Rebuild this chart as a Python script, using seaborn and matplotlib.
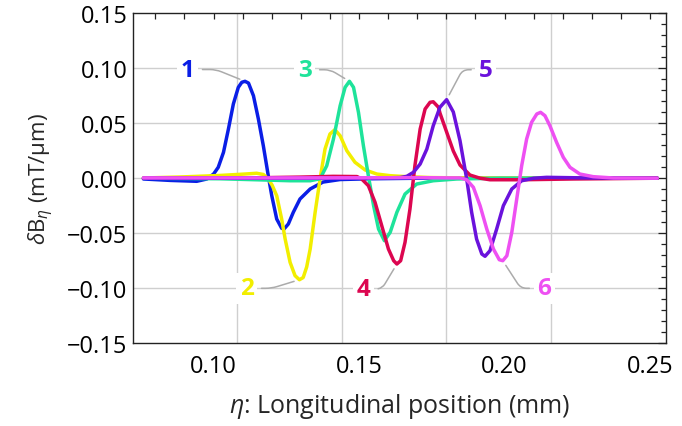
import numpy as np
import pandas as pd
import matplotlib
matplotlib.use("Agg")
import matplotlib.pyplot as plt
from matplotlib.ticker import MultipleLocator, FuncFormatter
import seaborn as sns

# Field-gradient profiles along the longitudinal coordinate (mm -> mT/um)
x1 = [0.0759, 0.0851, 0.0942, 0.0977, 0.1000, 0.1016, 0.1034, 0.1051, 0.1068, 0.1085,
      0.1097, 0.1108, 0.1120, 0.1137, 0.1154, 0.1171, 0.1188, 0.1200, 0.1217, 0.1234,
      0.1242, 0.1257, 0.1274, 0.1297, 0.1332, 0.1376, 0.1435, 0.1538, 0.1710, 0.2525]
y1 = [-0.0007, -0.0020, -0.0028, -0.0007, 0.0038, 0.0099, 0.0235, 0.0447, 0.0675, 0.0826,
      0.0872, 0.0881, 0.0865, 0.0750, 0.0538, 0.0295, 0.0023, -0.0159, -0.0371, -0.0455,
      -0.0462, -0.0416, -0.0310, -0.0189, -0.0098, -0.0035, -0.0012, -0.0005, 0.0000, 0.0000]

x2 = [0.0759, 0.0885, 0.1022, 0.1108, 0.1148, 0.1171, 0.1188, 0.1201, 0.1217, 0.1234,
      0.1246, 0.1263, 0.1280, 0.1295, 0.1308, 0.1320, 0.1332, 0.1349, 0.1366, 0.1383,
      0.1400, 0.1417, 0.1435, 0.1458, 0.1486, 0.1521, 0.1561, 0.1607, 0.1664, 0.1744,
      0.1881, 0.2525]
y2 = [0.0002, 0.0011, 0.0025, 0.0038, 0.0045, 0.0034, -0.0007, -0.0062, -0.0159, -0.0371,
      -0.0553, -0.0765, -0.0886, -0.0923, -0.0903, -0.0807, -0.0644, -0.0310, -0.0007, 0.0265,
      0.0402, 0.0441, 0.0386, 0.0250, 0.0145, 0.0075, 0.0038, 0.0023, 0.0014, 0.0006,
      0.0002, 0.0000]

x3 = [0.0759, 0.1022, 0.1160, 0.1263, 0.1332, 0.1366, 0.1389, 0.1412, 0.1435, 0.1452,
      0.1467, 0.1481, 0.1498, 0.1515, 0.1532, 0.1550, 0.1567, 0.1587, 0.1607, 0.1630,
      0.1658, 0.1698, 0.1755, 0.1836, 0.1984, 0.2525]
y3 = [0.0000, -0.0005, -0.0015, -0.0023, -0.0023, -0.0005, 0.0114, 0.0356, 0.0659, 0.0826,
      0.0881, 0.0826, 0.0599, 0.0295, 0.0023, -0.0250, -0.0462, -0.0568, -0.0492, -0.0310,
      -0.0144, -0.0053, -0.0023, -0.0007, 0.0000, 0.0000]

x4 = [0.0759, 0.1125, 0.1297, 0.1411, 0.1493, 0.1509, 0.1532, 0.1555, 0.1578, 0.1601,
      0.1619, 0.1630, 0.1643, 0.1658, 0.1675, 0.1692, 0.1710, 0.1727, 0.1744, 0.1755,
      0.1773, 0.1778, 0.1801, 0.1824, 0.1847, 0.1881, 0.1916, 0.1950, 0.2063, 0.2235,
      0.2525]
y4 = [0.0000, 0.0003, 0.0010, 0.0017, 0.0015, -0.0007, -0.0068, -0.0219, -0.0432, -0.0644,
      -0.0750, -0.0780, -0.0750, -0.0583, -0.0280, 0.0114, 0.0447, 0.0629, 0.0690, 0.0695,
      0.0645, 0.0593, 0.0420, 0.0247, 0.0120, 0.0029, 0.0000, -0.0014, -0.0014, -0.0007,
      0.0000]

x5 = [0.0759, 0.1297, 0.1572, 0.1641, 0.1664, 0.1687, 0.1710, 0.1733, 0.1755, 0.1778,
      0.1801, 0.1824, 0.1847, 0.1870, 0.1887, 0.1904, 0.1922, 0.1933, 0.1950, 0.1973,
      0.1996, 0.2025, 0.2059, 0.2100, 0.2145, 0.2294, 0.2525]
y5 = [0.0000, 0.0000, 0.0002, 0.0006, 0.0017, 0.0054, 0.0129, 0.0265, 0.0477, 0.0645,
      0.0714, 0.0602, 0.0341, -0.0007, -0.0310, -0.0553, -0.0689, -0.0710, -0.0659, -0.0462,
      -0.0250, -0.0098, -0.0023, 0.0000, 0.0008, 0.0002, 0.0000]

x6 = [0.0759, 0.1297, 0.1710, 0.1813, 0.1847, 0.1870, 0.1893, 0.1916, 0.1939, 0.1962,
      0.1982, 0.1994, 0.2008, 0.2025, 0.2042, 0.2059, 0.2076, 0.2093, 0.2111, 0.2124,
      0.2139, 0.2156, 0.2179, 0.2202, 0.2225, 0.2259, 0.2305, 0.2374, 0.2525]
y6 = [0.0003, 0.0003, 0.0005, 0.0003, 0.0003, -0.0014, -0.0083, -0.0250, -0.0462, -0.0644,
      -0.0741, -0.0750, -0.0705, -0.0492, -0.0189, 0.0114, 0.0356, 0.0508, 0.0584, 0.0599,
      0.0568, 0.0477, 0.0326, 0.0190, 0.0099, 0.0038, 0.0014, 0.0002, 0.0000]

curve_names = ["1", "2", "3", "4", "5", "6"]
curve_colors = ["#0a1ee6", "#f2ee00", "#1ee39a", "#dc0650", "#6a12dc", "#ee50f2"]

# callout label positions (data coords) and leader geometry
label_x = [0.0911, 0.1114, 0.1314, 0.1515, 0.1936, 0.2136]
label_y = [0.0988, -0.1001, 0.0986, -0.1007, 0.0986, -0.1001]
label_at_peak = [True, False, True, False, True, False]
leader_angleA = [0, 0, 0, 0, 180, 180]
leader_angleB = [158, -163, 149, -121, 62, -57]

grid_x = [0.108, 0.144, 0.180, 0.216]
grid_y = [-0.10, -0.05, 0.0, 0.05, 0.10]

xs = [x1, x2, x3, x4, x5, x6]
ys = [y1, y2, y3, y4, y5, y6]
frames = [pd.DataFrame({"eta": xv, "dB": yv, "curve": n}) for xv, yv, n in zip(xs, ys, curve_names)]
df = pd.concat(frames, ignore_index=True)

sns.set_theme(style="white")
plt.rcParams["font.family"] = ["Open Sans", "DejaVu Sans"]
plt.rcParams["mathtext.fontset"] = "custom"
plt.rcParams["mathtext.rm"] = "Open Sans"
plt.rcParams["mathtext.it"] = "Open Sans:italic"
plt.rcParams["axes.unicode_minus"] = True

fig = plt.figure(figsize=(6.82, 4.27), dpi=100)
ax = fig.add_axes([0.1950, 0.1939, 0.7811, 0.7728])

for gx in grid_x:
    ax.axvline(gx, color="#cfcfcf", lw=1.0, zorder=0)
for gy in grid_y:
    ax.axhline(gy, color="#cfcfcf", lw=1.0, zorder=0)

sns.lineplot(data=df, x="eta", y="dB", hue="curve", palette=dict(zip(curve_names, curve_colors)),
             estimator=None, sort=True, legend=False, linewidth=2.5, ax=ax, zorder=3,
             solid_joinstyle="round", solid_capstyle="round")

for i, name in enumerate(curve_names):
    xv = np.array(xs[i])
    yv = np.array(ys[i])
    k = int(np.argmax(yv)) if label_at_peak[i] else int(np.argmin(yv))
    ax.annotate(name, xy=(xv[k], yv[k]), xytext=(label_x[i], label_y[i]),
                ha="center", va="center", fontsize=17.5, fontweight="bold",
                color=curve_colors[i], zorder=5,
                bbox=dict(boxstyle="square,pad=0.15", fc="white", ec="none"),
                arrowprops=dict(arrowstyle="-", color="#ababab", lw=1.1,
                                shrinkA=3, shrinkB=4,
                                connectionstyle=f"angle,angleA={leader_angleA[i]},angleB={leader_angleB[i]},rad=6"))

ax.set_xlim(0.0723, 0.2554)
ax.set_ylim(-0.15, 0.15)
ax.xaxis.set_major_locator(MultipleLocator(0.05))
ax.xaxis.set_minor_locator(MultipleLocator(0.01))
ax.yaxis.set_major_locator(MultipleLocator(0.05))
ax.yaxis.set_minor_locator(MultipleLocator(0.01))
ax.xaxis.set_major_formatter(FuncFormatter(lambda v, p: f"{v:.2f}".replace("-", "\u2212")))
ax.yaxis.set_major_formatter(FuncFormatter(lambda v, p: f"{v:.2f}".replace("-", "\u2212") if abs(v) > 1e-9 else "0.00"))

ax.tick_params(which="both", direction="in", top=True, right=True, colors="#222222",
               labelcolor="black", width=0.9)
ax.tick_params(axis="x", which="major", length=4.5, pad=8, labelsize=17)
ax.tick_params(axis="x", which="minor", length=4)
ax.tick_params(axis="y", which="major", length=5.5, pad=4, labelsize=17)
ax.tick_params(axis="y", which="minor", length=3.5)
for s in ax.spines.values():
    s.set_color("#222222")
    s.set_linewidth(1.0)

ax.set_xlabel(r"$\eta$: Longitudinal position (mm)", fontsize=18, labelpad=9)
ax.set_ylabel(r"$\delta\mathrm{B}_{\eta}$ (mT/μm)", fontsize=16, labelpad=8)

fig.savefig("out.png", dpi=100)
